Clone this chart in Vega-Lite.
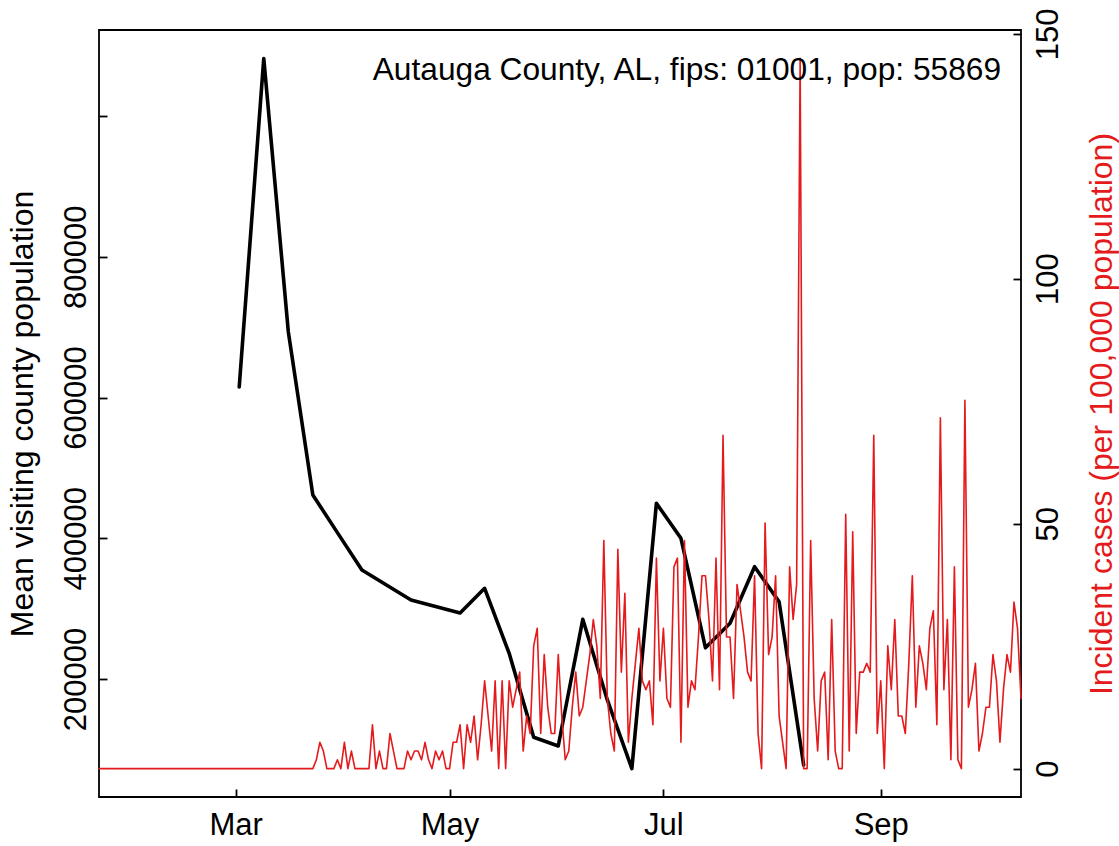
{
  "$schema": "https://vega.github.io/schema/vega-lite/v6.json",
  "width": 922,
  "height": 767,
  "autosize": {"type": "none"},
  "padding": {"left": 99, "top": 30, "right": 98, "bottom": 49},
  "background": "white",
  "config": {
    "font": "Liberation Sans",
    "view": {"stroke": "black", "strokeWidth": 1.8},
    "axis": {
      "grid": false,
      "domain": false,
      "labelFont": "Liberation Sans",
      "titleFont": "Liberation Sans",
      "labelFontSize": 31,
      "titleFontSize": 32,
      "labelColor": "black",
      "titleColor": "black",
      "titleFontWeight": "normal",
      "tickColor": "black",
      "tickSize": -8,
      "tickWidth": 1.8,
      "labelOverlap": false,
      "labelFlush": false,
      "labelBound": false
    }
  },
  "title": {
    "text": "Autauga County, AL, fips: 01001, pop: 55869",
    "anchor": "start",
    "frame": "group",
    "orient": "top",
    "offset": -50,
    "dx": 273.7,
    "dy": 54,
    "baseline": "alphabetic",
    "font": "Liberation Sans",
    "fontSize": 31.7,
    "fontWeight": "normal",
    "color": "black"
  },
  "datasets": {
    "visits": [
      {"date": "2020-03-02", "visitors": 615000},
      {"date": "2020-03-09", "visitors": 1081800},
      {"date": "2020-03-16", "visitors": 693500},
      {"date": "2020-03-23", "visitors": 461500},
      {"date": "2020-03-30", "visitors": 408000},
      {"date": "2020-04-06", "visitors": 354900},
      {"date": "2020-04-13", "visitors": 333600},
      {"date": "2020-04-20", "visitors": 312300},
      {"date": "2020-04-27", "visitors": 303000},
      {"date": "2020-05-04", "visitors": 293800},
      {"date": "2020-05-11", "visitors": 328900},
      {"date": "2020-05-18", "visitors": 236500},
      {"date": "2020-05-25", "visitors": 117200},
      {"date": "2020-06-01", "visitors": 104800},
      {"date": "2020-06-08", "visitors": 284800},
      {"date": "2020-06-15", "visitors": 170200},
      {"date": "2020-06-22", "visitors": 72700},
      {"date": "2020-06-29", "visitors": 449700},
      {"date": "2020-07-06", "visitors": 399900},
      {"date": "2020-07-13", "visitors": 244300},
      {"date": "2020-07-20", "visitors": 279100},
      {"date": "2020-07-27", "visitors": 359600},
      {"date": "2020-08-03", "visitors": 309800},
      {"date": "2020-08-10", "visitors": 77800}
    ],
    "cases": [
      {"date": "2020-01-22", "incidence": 0}, {"date": "2020-01-23", "incidence": 0}, {"date": "2020-01-24", "incidence": 0}, {"date": "2020-01-25", "incidence": 0}, {"date": "2020-01-26", "incidence": 0},
      {"date": "2020-01-27", "incidence": 0}, {"date": "2020-01-28", "incidence": 0}, {"date": "2020-01-29", "incidence": 0}, {"date": "2020-01-30", "incidence": 0}, {"date": "2020-01-31", "incidence": 0},
      {"date": "2020-02-01", "incidence": 0}, {"date": "2020-02-02", "incidence": 0}, {"date": "2020-02-03", "incidence": 0}, {"date": "2020-02-04", "incidence": 0}, {"date": "2020-02-05", "incidence": 0},
      {"date": "2020-02-06", "incidence": 0}, {"date": "2020-02-07", "incidence": 0}, {"date": "2020-02-08", "incidence": 0}, {"date": "2020-02-09", "incidence": 0}, {"date": "2020-02-10", "incidence": 0},
      {"date": "2020-02-11", "incidence": 0}, {"date": "2020-02-12", "incidence": 0}, {"date": "2020-02-13", "incidence": 0}, {"date": "2020-02-14", "incidence": 0}, {"date": "2020-02-15", "incidence": 0},
      {"date": "2020-02-16", "incidence": 0}, {"date": "2020-02-17", "incidence": 0}, {"date": "2020-02-18", "incidence": 0}, {"date": "2020-02-19", "incidence": 0}, {"date": "2020-02-20", "incidence": 0},
      {"date": "2020-02-21", "incidence": 0}, {"date": "2020-02-22", "incidence": 0}, {"date": "2020-02-23", "incidence": 0}, {"date": "2020-02-24", "incidence": 0}, {"date": "2020-02-25", "incidence": 0},
      {"date": "2020-02-26", "incidence": 0}, {"date": "2020-02-27", "incidence": 0}, {"date": "2020-02-28", "incidence": 0}, {"date": "2020-02-29", "incidence": 0},
      {"date": "2020-03-01", "incidence": 0}, {"date": "2020-03-02", "incidence": 0}, {"date": "2020-03-03", "incidence": 0}, {"date": "2020-03-04", "incidence": 0}, {"date": "2020-03-05", "incidence": 0},
      {"date": "2020-03-06", "incidence": 0}, {"date": "2020-03-07", "incidence": 0}, {"date": "2020-03-08", "incidence": 0}, {"date": "2020-03-09", "incidence": 0}, {"date": "2020-03-10", "incidence": 0},
      {"date": "2020-03-11", "incidence": 0}, {"date": "2020-03-12", "incidence": 0}, {"date": "2020-03-13", "incidence": 0}, {"date": "2020-03-14", "incidence": 0}, {"date": "2020-03-15", "incidence": 0},
      {"date": "2020-03-16", "incidence": 0}, {"date": "2020-03-17", "incidence": 0}, {"date": "2020-03-18", "incidence": 0}, {"date": "2020-03-19", "incidence": 0}, {"date": "2020-03-20", "incidence": 0},
      {"date": "2020-03-21", "incidence": 0}, {"date": "2020-03-22", "incidence": 0}, {"date": "2020-03-23", "incidence": 0}, {"date": "2020-03-24", "incidence": 1.79}, {"date": "2020-03-25", "incidence": 5.37},
      {"date": "2020-03-26", "incidence": 3.58}, {"date": "2020-03-27", "incidence": 0}, {"date": "2020-03-28", "incidence": 0}, {"date": "2020-03-29", "incidence": 0}, {"date": "2020-03-30", "incidence": 1.79},
      {"date": "2020-03-31", "incidence": 0},
      {"date": "2020-04-01", "incidence": 5.37}, {"date": "2020-04-02", "incidence": 0}, {"date": "2020-04-03", "incidence": 3.58}, {"date": "2020-04-04", "incidence": 0}, {"date": "2020-04-05", "incidence": 0},
      {"date": "2020-04-06", "incidence": 0}, {"date": "2020-04-07", "incidence": 0}, {"date": "2020-04-08", "incidence": 0}, {"date": "2020-04-09", "incidence": 8.95}, {"date": "2020-04-10", "incidence": 0},
      {"date": "2020-04-11", "incidence": 3.58}, {"date": "2020-04-12", "incidence": 0}, {"date": "2020-04-13", "incidence": 0}, {"date": "2020-04-14", "incidence": 7.16}, {"date": "2020-04-15", "incidence": 3.58},
      {"date": "2020-04-16", "incidence": 0}, {"date": "2020-04-17", "incidence": 0}, {"date": "2020-04-18", "incidence": 0}, {"date": "2020-04-19", "incidence": 3.58}, {"date": "2020-04-20", "incidence": 1.79},
      {"date": "2020-04-21", "incidence": 3.58}, {"date": "2020-04-22", "incidence": 3.58}, {"date": "2020-04-23", "incidence": 1.79}, {"date": "2020-04-24", "incidence": 5.37}, {"date": "2020-04-25", "incidence": 1.79},
      {"date": "2020-04-26", "incidence": 0}, {"date": "2020-04-27", "incidence": 3.58}, {"date": "2020-04-28", "incidence": 1.79}, {"date": "2020-04-29", "incidence": 3.58}, {"date": "2020-04-30", "incidence": 0},
      {"date": "2020-05-01", "incidence": 0}, {"date": "2020-05-02", "incidence": 5.37}, {"date": "2020-05-03", "incidence": 5.37}, {"date": "2020-05-04", "incidence": 8.95}, {"date": "2020-05-05", "incidence": 0},
      {"date": "2020-05-06", "incidence": 8.95}, {"date": "2020-05-07", "incidence": 5.37}, {"date": "2020-05-08", "incidence": 10.74}, {"date": "2020-05-09", "incidence": 1.79}, {"date": "2020-05-10", "incidence": 8.95},
      {"date": "2020-05-11", "incidence": 17.9}, {"date": "2020-05-12", "incidence": 10.74}, {"date": "2020-05-13", "incidence": 3.58}, {"date": "2020-05-14", "incidence": 17.9}, {"date": "2020-05-15", "incidence": 0},
      {"date": "2020-05-16", "incidence": 17.9}, {"date": "2020-05-17", "incidence": 0}, {"date": "2020-05-18", "incidence": 17.9}, {"date": "2020-05-19", "incidence": 12.53}, {"date": "2020-05-20", "incidence": 16.11},
      {"date": "2020-05-21", "incidence": 19.69}, {"date": "2020-05-22", "incidence": 3.58}, {"date": "2020-05-23", "incidence": 10.74}, {"date": "2020-05-24", "incidence": 7.16}, {"date": "2020-05-25", "incidence": 25.06},
      {"date": "2020-05-26", "incidence": 28.64}, {"date": "2020-05-27", "incidence": 7.16}, {"date": "2020-05-28", "incidence": 23.27}, {"date": "2020-05-29", "incidence": 12.53}, {"date": "2020-05-30", "incidence": 7.16},
      {"date": "2020-05-31", "incidence": 7.16},
      {"date": "2020-06-01", "incidence": 23.27}, {"date": "2020-06-02", "incidence": 10.74}, {"date": "2020-06-03", "incidence": 1.79}, {"date": "2020-06-04", "incidence": 3.58}, {"date": "2020-06-05", "incidence": 12.53},
      {"date": "2020-06-06", "incidence": 19.69}, {"date": "2020-06-07", "incidence": 10.74}, {"date": "2020-06-08", "incidence": 12.53}, {"date": "2020-06-09", "incidence": 17.9}, {"date": "2020-06-10", "incidence": 23.27},
      {"date": "2020-06-11", "incidence": 30.43}, {"date": "2020-06-12", "incidence": 25.06}, {"date": "2020-06-13", "incidence": 14.32}, {"date": "2020-06-14", "incidence": 46.54}, {"date": "2020-06-15", "incidence": 14.32},
      {"date": "2020-06-16", "incidence": 7.16}, {"date": "2020-06-17", "incidence": 3.58}, {"date": "2020-06-18", "incidence": 44.75}, {"date": "2020-06-19", "incidence": 19.69}, {"date": "2020-06-20", "incidence": 35.8},
      {"date": "2020-06-21", "incidence": 5.37}, {"date": "2020-06-22", "incidence": 14.32}, {"date": "2020-06-23", "incidence": 21.48}, {"date": "2020-06-24", "incidence": 28.64}, {"date": "2020-06-25", "incidence": 17.9},
      {"date": "2020-06-26", "incidence": 16.11}, {"date": "2020-06-27", "incidence": 17.9}, {"date": "2020-06-28", "incidence": 8.95}, {"date": "2020-06-29", "incidence": 42.96}, {"date": "2020-06-30", "incidence": 17.9},
      {"date": "2020-07-01", "incidence": 28.64}, {"date": "2020-07-02", "incidence": 14.32}, {"date": "2020-07-03", "incidence": 12.53}, {"date": "2020-07-04", "incidence": 41.17}, {"date": "2020-07-05", "incidence": 42.96},
      {"date": "2020-07-06", "incidence": 5.37}, {"date": "2020-07-07", "incidence": 46.54}, {"date": "2020-07-08", "incidence": 12.53}, {"date": "2020-07-09", "incidence": 17.9}, {"date": "2020-07-10", "incidence": 16.11},
      {"date": "2020-07-11", "incidence": 26.85}, {"date": "2020-07-12", "incidence": 39.38}, {"date": "2020-07-13", "incidence": 39.38}, {"date": "2020-07-14", "incidence": 30.43}, {"date": "2020-07-15", "incidence": 17.9},
      {"date": "2020-07-16", "incidence": 42.96}, {"date": "2020-07-17", "incidence": 16.11}, {"date": "2020-07-18", "incidence": 68.02}, {"date": "2020-07-19", "incidence": 26.85}, {"date": "2020-07-20", "incidence": 26.85},
      {"date": "2020-07-21", "incidence": 14.32}, {"date": "2020-07-22", "incidence": 37.59}, {"date": "2020-07-23", "incidence": 32.22}, {"date": "2020-07-24", "incidence": 26.85}, {"date": "2020-07-25", "incidence": 19.69},
      {"date": "2020-07-26", "incidence": 17.9}, {"date": "2020-07-27", "incidence": 39.38}, {"date": "2020-07-28", "incidence": 7.16}, {"date": "2020-07-29", "incidence": 0}, {"date": "2020-07-30", "incidence": 50.12},
      {"date": "2020-07-31", "incidence": 23.27},
      {"date": "2020-08-01", "incidence": 26.85}, {"date": "2020-08-02", "incidence": 39.38}, {"date": "2020-08-03", "incidence": 10.74}, {"date": "2020-08-04", "incidence": 5.37}, {"date": "2020-08-05", "incidence": 0},
      {"date": "2020-08-06", "incidence": 41.17}, {"date": "2020-08-07", "incidence": 30.43}, {"date": "2020-08-08", "incidence": 37.59}, {"date": "2020-08-09", "incidence": 144.98}, {"date": "2020-08-10", "incidence": 0},
      {"date": "2020-08-11", "incidence": 0}, {"date": "2020-08-12", "incidence": 46.54}, {"date": "2020-08-13", "incidence": 14.32}, {"date": "2020-08-14", "incidence": 3.58}, {"date": "2020-08-15", "incidence": 17.9},
      {"date": "2020-08-16", "incidence": 19.69}, {"date": "2020-08-17", "incidence": 1.79}, {"date": "2020-08-18", "incidence": 30.43}, {"date": "2020-08-19", "incidence": 3.58}, {"date": "2020-08-20", "incidence": 0},
      {"date": "2020-08-21", "incidence": 0}, {"date": "2020-08-22", "incidence": 51.91}, {"date": "2020-08-23", "incidence": 3.58}, {"date": "2020-08-24", "incidence": 48.33}, {"date": "2020-08-25", "incidence": 7.16},
      {"date": "2020-08-26", "incidence": 19.69}, {"date": "2020-08-27", "incidence": 19.69}, {"date": "2020-08-28", "incidence": 21.48}, {"date": "2020-08-29", "incidence": 19.69}, {"date": "2020-08-30", "incidence": 68.02},
      {"date": "2020-08-31", "incidence": 7.16},
      {"date": "2020-09-01", "incidence": 17.9}, {"date": "2020-09-02", "incidence": 0}, {"date": "2020-09-03", "incidence": 25.06}, {"date": "2020-09-04", "incidence": 16.11}, {"date": "2020-09-05", "incidence": 30.43},
      {"date": "2020-09-06", "incidence": 10.74}, {"date": "2020-09-07", "incidence": 10.74}, {"date": "2020-09-08", "incidence": 7.16}, {"date": "2020-09-09", "incidence": 21.48}, {"date": "2020-09-10", "incidence": 39.38},
      {"date": "2020-09-11", "incidence": 12.53}, {"date": "2020-09-12", "incidence": 25.06}, {"date": "2020-09-13", "incidence": 21.48}, {"date": "2020-09-14", "incidence": 16.11}, {"date": "2020-09-15", "incidence": 28.64},
      {"date": "2020-09-16", "incidence": 32.22}, {"date": "2020-09-17", "incidence": 8.95}, {"date": "2020-09-18", "incidence": 71.6}, {"date": "2020-09-19", "incidence": 16.11}, {"date": "2020-09-20", "incidence": 30.43},
      {"date": "2020-09-21", "incidence": 1.79}, {"date": "2020-09-22", "incidence": 41.17}, {"date": "2020-09-23", "incidence": 1.79}, {"date": "2020-09-24", "incidence": 0}, {"date": "2020-09-25", "incidence": 75.18},
      {"date": "2020-09-26", "incidence": 12.53}, {"date": "2020-09-27", "incidence": 16.11}, {"date": "2020-09-28", "incidence": 21.48}, {"date": "2020-09-29", "incidence": 3.58}, {"date": "2020-09-30", "incidence": 7.16},
      {"date": "2020-10-01", "incidence": 12.53}, {"date": "2020-10-02", "incidence": 12.53}, {"date": "2020-10-03", "incidence": 23.27}, {"date": "2020-10-04", "incidence": 17.9}, {"date": "2020-10-05", "incidence": 5.37},
      {"date": "2020-10-06", "incidence": 16.11}, {"date": "2020-10-07", "incidence": 23.27}, {"date": "2020-10-08", "incidence": 19.69}, {"date": "2020-10-09", "incidence": 34.01}, {"date": "2020-10-10", "incidence": 28.64},
      {"date": "2020-10-11", "incidence": 14.32}
    ]
  },
  "encoding": {
    "x": {
      "field": "date",
      "type": "temporal",
      "scale": {"domain": [{"year": 2020, "month": 1, "date": 22}, {"year": 2020, "month": 10, "date": 11}]},
      "axis": {
        "values": [
          {"year": 2020, "month": 3, "date": 1},
          {"year": 2020, "month": 5, "date": 1},
          {"year": 2020, "month": 7, "date": 1},
          {"year": 2020, "month": 9, "date": 1}
        ],
        "format": "%b",
        "labelAngle": 0,
        "labelAlign": "center",
        "labelBaseline": "alphabetic",
        "labelPadding": 45,
        "title": null
      }
    }
  },
  "layer": [
    {
      "data": {"name": "visits"},
      "mark": {"type": "line", "color": "black", "strokeWidth": 3.6, "strokeJoin": "round", "strokeCap": "round"},
      "encoding": {
        "y": {
          "field": "visitors",
          "type": "quantitative",
          "scale": {"domain": [32330, 1122200], "nice": false, "zero": false},
          "axis": {
            "orient": "left",
            "values": [200000, 400000, 600000, 800000, 1000000],
            "labelExpr": "datum.value == 1000000 ? '' : format(datum.value, 'd')",
            "labelAngle": -90,
            "labelAlign": "center",
            "labelBaseline": "alphabetic",
            "labelPadding": 22,
            "title": "Mean visiting county population",
            "titleAngle": -90,
            "titleAlign": "center",
            "titleBaseline": "alphabetic",
            "titleX": -67,
            "titleY": 383.5
          }
        }
      }
    },
    {
      "data": {"name": "cases"},
      "mark": {"type": "line", "color": "#E41A1C", "strokeWidth": 1.6, "strokeJoin": "round", "strokeCap": "round"},
      "encoding": {
        "y": {
          "field": "incidence",
          "type": "quantitative",
          "scale": {"domain": [-5.8, 150.78], "nice": false, "zero": false},
          "axis": {
            "orient": "right",
            "values": [0, 50, 100, 150],
            "format": "d",
            "labelAngle": -90,
            "labelAlign": "center",
            "labelBaseline": "alphabetic",
            "labelPadding": 44,
            "title": "Incident cases (per 100,000 population)",
            "titleColor": "#E41A1C",
            "titleAngle": -90,
            "titleAlign": "center",
            "titleBaseline": "alphabetic",
            "titleX": 90.7,
            "titleY": 383.5
          }
        }
      }
    }
  ],
  "resolve": {"scale": {"y": "independent"}, "axis": {"y": "independent"}}
}
